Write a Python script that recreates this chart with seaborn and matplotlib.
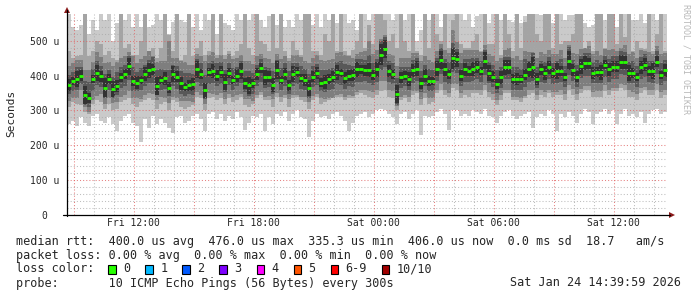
import numpy as np
import pandas as pd
import matplotlib
matplotlib.use("Agg")
import matplotlib.pyplot as plt
import seaborn as sns
from matplotlib.lines import Line2D
from matplotlib.patches import Polygon, Rectangle

# ---------------- data (microseconds) ----------------
start_hour = 8.667          # hours since Fri 00:00 (left edge of plot)
step_hours = 0.2            # one column every 12 minutes
span_hours = 30.0

rtt_median = [
    373, 385, 390, 400, 345, 336, 390, 408, 398, 365,
    390, 362, 370, 395, 405, 427, 385, 380, 388, 405,
    415, 418, 370, 388, 392, 366, 405, 397, 378, 368,
    372, 375, 418, 405, 358, 410, 413, 400, 410, 382,
    407, 388, 400, 413, 378, 372, 378, 405, 422, 395,
    397, 372, 416, 388, 405, 372, 405, 410, 393, 388,
    365, 397, 408, 380, 382, 390, 397, 410, 408, 393,
    400, 402, 418, 418, 415, 415, 402, 418, 460, 476,
    413, 405, 347, 395, 400, 390, 415, 420, 378, 400,
    385, 385, 420, 445, 418, 405, 450, 447, 400, 418,
    413, 420, 425, 413, 443, 408, 397, 376, 395, 424,
    424, 390, 390, 390, 403, 418, 424, 390, 418, 408,
    424, 407, 413, 413, 397, 443, 416, 397, 427, 435,
    435, 408, 410, 410, 432, 418, 426, 426, 440, 438,
    408, 408, 397, 424, 432, 413, 413, 440, 402, 415,
]
rtt_max = [
    600, 540, 530, 545, 600, 520, 560, 530, 600, 560,
    600, 500, 550, 600, 560, 600, 540, 600, 540, 600,
    540, 545, 600, 560, 600, 520, 555, 600, 560, 555,
    600, 540, 600, 530, 600, 560, 600, 520, 600, 550,
    545, 530, 600, 560, 600, 560, 600, 600, 560, 540,
    570, 600, 545, 600, 540, 560, 540, 600, 560, 600,
    600, 545, 600, 540, 600, 560, 600, 550, 600, 600,
    550, 560, 530, 600, 600, 560, 600, 600, 600, 600,
    600, 560, 600, 600, 560, 600, 600, 500, 530, 600,
    560, 600, 600, 540, 600, 600, 560, 600, 600, 560,
    600, 540, 570, 600, 600, 550, 600, 600, 560, 600,
    560, 555, 600, 550, 570, 600, 600, 580, 575, 600,
    600, 550, 600, 600, 560, 575, 575, 600, 600, 550,
    540, 545, 600, 600, 560, 600, 600, 540, 600, 600,
    600, 560, 560, 600, 550, 600, 600, 560, 600, 600,
]
rtt_p9 = [
    470, 450, 445, 460, 600, 455, 470, 500, 490, 460,
    470, 450, 440, 600, 480, 490, 460, 460, 500, 600,
    470, 455, 440, 480, 600, 500, 470, 600, 445, 460,
    600, 455, 480, 500, 460, 470, 600, 450, 600, 460,
    470, 455, 470, 490, 600, 480, 460, 600, 500, 490,
    470, 600, 480, 600, 470, 450, 500, 475, 460, 600,
    600, 470, 470, 460, 520, 500, 600, 470, 600, 470,
    460, 475, 500, 600, 480, 500, 490, 600, 600, 560,
    500, 520, 480, 600, 500, 470, 600, 470, 460, 600,
    480, 600, 520, 500, 600, 480, 530, 600, 490, 480,
    480, 500, 520, 470, 600, 490, 490, 600, 460, 600,
    520, 470, 600, 480, 470, 600, 600, 520, 500, 600,
    600, 480, 600, 490, 500, 500, 520, 600, 600, 480,
    500, 470, 600, 600, 480, 600, 600, 490, 600, 510,
    600, 470, 500, 480, 470, 600, 470, 520, 600, 470,
]
dev_p8 = [
    55, 50, 65, 45, 70, 80, 50, 60, 55, 70,
    50, 65, 75, 55, 50, 40, 70, 55, 60, 50,
    55, 60, 80, 55, 50, 150, 45, 55, 65, 70,
    60, 55, 45, 50, 85, 50, 55, 60, 50, 65,
    55, 60, 50, 45, 65, 70, 55, 50, 40, 55,
    50, 65, 45, 60, 50, 70, 55, 50, 60, 55,
    70, 55, 50, 65, 60, 55, 50, 55, 60, 65,
    55, 50, 45, 50, 55, 130, 60, 55, 45, 40,
    50, 55, 80, 55, 50, 60, 50, 45, 65, 55,
    60, 55, 50, 45, 55, 60, 140, 50, 65, 55,
    60, 55, 50, 55, 45, 55, 60, 65, 55, 50,
    55, 60, 65, 55, 150, 50, 45, 60, 50, 55,
    50, 55, 50, 60, 55, 45, 50, 65, 50, 45,
    50, 55, 60, 50, 45, 55, 50, 45, 40, 50,
    55, 60, 55, 50, 45, 55, 50, 45, 60, 50,
]
dev_p7 = [
    30, 25, 35, 25, 40, 45, 30, 35, 30, 40,
    25, 35, 40, 30, 25, 30, 40, 30, 35, 25,
    30, 35, 45, 30, 25, 50, 25, 30, 35, 40,
    35, 30, 30, 30, 45, 25, 30, 35, 30, 35,
    30, 35, 25, 30, 35, 40, 30, 25, 25, 30,
    25, 40, 30, 35, 30, 40, 30, 25, 35, 30,
    40, 30, 25, 35, 35, 30, 25, 30, 35, 40,
    30, 25, 30, 30, 30, 45, 35, 30, 40, 35,
    30, 30, 45, 30, 25, 35, 30, 30, 35, 30,
    35, 30, 30, 35, 30, 35, 45, 30, 35, 30,
    35, 30, 25, 30, 30, 30, 35, 40, 30, 30,
    30, 35, 35, 30, 45, 25, 40, 35, 25, 30,
    30, 30, 30, 35, 30, 40, 30, 35, 30, 30,
    30, 30, 35, 30, 25, 30, 30, 30, 30, 30,
    30, 35, 30, 30, 30, 30, 30, 30, 35, 30,
]
dev_core = [
    18, 12, 22, 15, 25, 15, 12, 22, 15, 28,
    15, 22, 18, 12, 15, 25, 15, 18, 12, 20,
    22, 15, 25, 12, 18, 15, 22, 15, 18, 12,
    15, 18, 25, 15, 22, 12, 20, 15, 18, 22,
    15, 12, 18, 22, 15, 25, 12, 18, 15, 22,
    15, 20, 25, 12, 18, 15, 22, 15, 12, 18,
    22, 15, 18, 12, 20, 15, 15, 22, 12, 18,
    15, 18, 22, 12, 15, 20, 15, 22, 30, 25,
    18, 15, 25, 15, 12, 20, 18, 22, 15, 18,
    15, 12, 22, 25, 18, 15, 30, 22, 15, 18,
    15, 20, 18, 12, 25, 22, 15, 15, 18, 22,
    20, 15, 18, 12, 15, 22, 30, 18, 15, 20,
    18, 15, 22, 15, 12, 28, 18, 15, 22, 20,
    15, 18, 15, 22, 12, 18, 15, 15, 20, 18,
    22, 15, 12, 18, 20, 15, 22, 15, 12, 18,
]
dev_p4 = [
    25, 30, 30, 25, 30, 25, 35, 35, 30, 25,
    30, 25, 25, 30, 35, 40, 30, 25, 30, 35,
    35, 40, 25, 30, 30, 25, 35, 35, 30, 25,
    25, 30, 35, 35, 25, 35, 35, 30, 35, 30,
    35, 30, 30, 35, 25, 30, 30, 35, 40, 30,
    30, 25, 35, 30, 35, 25, 35, 35, 30, 30,
    30, 30, 35, 25, 30, 30, 35, 35, 35, 30,
    30, 35, 35, 35, 30, 35, 30, 35, 45, 50,
    30, 30, 30, 30, 30, 30, 35, 35, 25, 30,
    30, 30, 35, 40, 35, 30, 40, 40, 30, 35,
    30, 35, 35, 30, 40, 30, 30, 25, 30, 35,
    35, 30, 30, 30, 35, 35, 40, 25, 35, 30,
    35, 30, 35, 30, 30, 40, 30, 30, 35, 35,
    35, 30, 30, 30, 35, 35, 35, 35, 35, 35,
    30, 30, 30, 35, 35, 30, 35, 35, 30, 30,
]
dev_p3 = [
    45, 50, 55, 40, 35, 40, 60, 65, 50, 45,
    55, 40, 45, 55, 60, 70, 50, 45, 55, 60,
    65, 70, 40, 50, 55, 45, 65, 60, 50, 40,
    45, 50, 65, 60, 40, 60, 65, 55, 60, 50,
    60, 50, 55, 65, 45, 40, 50, 60, 70, 55,
    55, 40, 65, 50, 60, 40, 60, 65, 55, 50,
    40, 55, 60, 45, 50, 55, 60, 65, 60, 55,
    55, 60, 65, 60, 55, 60, 50, 60, 75, 90,
    55, 50, 35, 55, 55, 50, 60, 65, 45, 50,
    50, 50, 60, 70, 60, 55, 75, 70, 50, 60,
    55, 60, 65, 55, 70, 55, 50, 45, 50, 65,
    65, 50, 50, 55, 60, 60, 65, 45, 60, 55,
    65, 55, 60, 55, 50, 70, 55, 50, 65, 65,
    65, 55, 55, 55, 60, 60, 60, 60, 65, 65,
    50, 55, 50, 60, 65, 55, 55, 65, 50, 55,
]
rtt_p2 = [
    310, 325, 320, 315, 295, 290, 320, 330, 325, 305,
    320, 300, 305, 325, 330, 335, 320, 310, 325, 330,
    335, 330, 305, 320, 325, 300, 330, 325, 310, 305,
    310, 315, 340, 335, 300, 335, 340, 330, 335, 320,
    335, 325, 330, 340, 315, 310, 320, 335, 345, 330,
    330, 310, 340, 325, 335, 310, 335, 340, 330, 325,
    305, 330, 340, 320, 325, 330, 335, 340, 340, 330,
    335, 335, 345, 350, 345, 340, 335, 345, 355, 360,
    340, 335, 300, 330, 335, 325, 345, 350, 315, 335,
    320, 325, 350, 360, 345, 340, 365, 360, 335, 345,
    340, 350, 350, 345, 360, 340, 330, 315, 330, 350,
    350, 330, 330, 325, 335, 345, 350, 330, 345, 340,
    350, 340, 345, 345, 330, 360, 345, 330, 350, 360,
    360, 340, 340, 340, 355, 345, 355, 355, 365, 360,
    340, 340, 330, 350, 360, 345, 345, 360, 335, 345,
]
rtt_min = [
    260, 270, 255, 280, 265, 255, 285, 290, 270, 265,
    280, 260, 240, 270, 285, 290, 265, 255, 210, 275,
    250, 285, 260, 275, 265, 250, 235, 280, 285, 265,
    270, 285, 290, 275, 240, 290, 295, 275, 290, 270,
    285, 275, 295, 280, 245, 265, 285, 280, 290, 240,
    280, 260, 290, 285, 295, 270, 290, 300, 280, 275,
    225, 270, 290, 280, 285, 275, 290, 295, 285, 270,
    240, 265, 285, 290, 295, 280, 290, 300, 305, 300,
    290, 280, 260, 290, 295, 275, 290, 300, 230, 285,
    280, 285, 295, 305, 290, 245, 300, 300, 285, 290,
    285, 300, 295, 290, 305, 285, 280, 265, 285, 295,
    300, 285, 275, 285, 290, 295, 250, 280, 290, 285,
    300, 290, 240, 290, 280, 295, 285, 265, 290, 305,
    295, 260, 290, 295, 305, 290, 300, 260, 290, 305,
    285, 290, 280, 295, 265, 290, 300, 305, 290, 295,
]

tick_hours = [12, 18, 24, 30, 36]
tick_labels = ["Fri 12:00", "Fri 18:00", "Sat 00:00", "Sat 06:00", "Sat 12:00"]
y_ticks = [0, 100, 200, 300, 400, 500]
y_tick_labels = ["0  ", "100 u", "200 u", "300 u", "400 u", "500 u"]

rtt_line = "median rtt:  400.0 us avg  476.0 us max  335.3 us min  406.0 us now  0.0 ms sd  18.7   am/s"
loss_line = "packet loss: 0.00 % avg  0.00 % max  0.00 % min  0.00 % now"
loss_labels = ["0", "1", "2", "3", "4", "5", "6-9", "10/10"]
loss_colors = ["#26ff00", "#00b8ff", "#0059ff", "#7e00ff", "#ff00ff", "#ff5500", "#ff0000", "#a10000"]
probe_line = "probe:       10 ICMP Echo Pings (56 Bytes) every 300s"
stamp_text = "Sat Jan 24 14:39:59 2026"

# ---------------- figure ----------------
sns.set_theme(style="white")
plt.rcParams['font.family'] = ['DejaVu Sans Mono', 'DejaVu Sans']

W, H = 697, 297
fig = plt.figure(figsize=(W / 100, H / 100), dpi=100, facecolor="white")


def fx(px):
    return px / W


def fy(py):
    return 1 - py / H


ax = fig.add_axes([fx(67), fy(215), (667 - 67) / W, (215 - 14) / H])
ax.set_facecolor("white")

med = np.array(rtt_median, dtype=float)
n = len(med)
pings = np.sort(np.vstack([
    np.array(rtt_min, float), np.array(rtt_p2, float),
    med - np.array(dev_p3), med - np.array(dev_p4), med - np.array(dev_core),
    med + np.array(dev_core), med + np.array(dev_p7), med + np.array(dev_p8),
    np.array(rtt_p9, float), np.array(rtt_max, float)]), axis=0)

t = start_hour + step_hours * np.arange(n)
edges = np.append(t, t[-1] + step_hours)


def ext(a):
    return np.append(a, a[-1])


shades = ["#cacaca", "#a4a4a4", "#7e7e7e", "#585858", "#323232"]
for k in range(5):
    ax.fill_between(edges, ext(pings[k]), ext(pings[9 - k]), step="post",
                    color=shades[k], linewidth=0, zorder=1)

# median (loss 0 colour) as short horizontal dashes
df = pd.DataFrame({"hour": t + step_hours / 2, "rtt": med})
sns.scatterplot(data=df, x="hour", y="rtt", marker="_", s=10,
                color="#26ff00", edgecolor="#26ff00", linewidth=2.0,
                ax=ax, zorder=4, legend=False)

ax.set_xlim(start_hour, start_hour + span_hours)
ax.set_ylim(0, 577)

# grid (dotted)
dots = (0, (1, 2))
for h in range(9, 39):
    if h % 3 == 0:
        ax.axvline(h, color="#e06060", alpha=0.8, lw=0.75, ls=dots, zorder=3)
    else:
        ax.axvline(h, color="#a8a8a8", alpha=0.75, lw=0.75, ls=dots, zorder=2.5)
for v in range(20, 577, 20):
    if v % 100 == 0:
        ax.axhline(v, color="#e06060", alpha=0.8, lw=0.75, ls=dots, zorder=3)
    else:
        ax.axhline(v, color="#a8a8a8", alpha=0.75, lw=0.75, ls=dots, zorder=2.5)

ax.set_xticks(tick_hours)
ax.set_xticklabels(tick_labels, fontsize=7)
ax.set_yticks(y_ticks)
ax.set_yticklabels(y_tick_labels, fontsize=7)
ax.tick_params(axis="x", length=0, pad=2.5)
ax.tick_params(axis="y", length=0, pad=5.5)
ax.set_xlabel("")
ax.set_ylabel("")
for s in ax.spines.values():
    s.set_visible(False)

# axes lines with arrows
fig.add_artist(Line2D([fx(67), fx(67)], [fy(216), fy(10)], color="black", lw=0.9))
fig.add_artist(Line2D([fx(63), fx(670)], [fy(215), fy(215)], color="black", lw=0.9))
fig.add_artist(Polygon([[fx(64), fy(13)], [fx(70), fy(13)], [fx(67), fy(7)]],
                       closed=True, color="#8b1a1a", lw=0))
fig.add_artist(Polygon([[fx(669), fy(212)], [fx(669), fy(218)], [fx(675), fy(215)]],
                       closed=True, color="#8b1a1a", lw=0))

fig.text(fx(11), fy(113), "Seconds", rotation=90, ha="center", va="center", fontsize=8)
fig.text(fx(686), fy(59), "RRDTOOL / TOBI OETIKER", rotation=270, ha="center",
         va="center", fontsize=6, color="#b8b8b8")

# legend block
lfs = 8.5
fig.text(fx(16), fy(241), rtt_line, ha="left", va="center", fontsize=lfs)
fig.text(fx(16), fy(255), loss_line, ha="left", va="center", fontsize=lfs)
fig.text(fx(16), fy(269), "loss color:", ha="left", va="center", fontsize=lfs)
bx = 108.3
for lab, col in zip(loss_labels, loss_colors):
    fig.add_artist(Rectangle((fx(bx), fy(273.5)), 7.5 / W, 8.5 / H,
                             facecolor=col, edgecolor="black", lw=0.8))
    fig.text(fx(bx + 15), fy(269), lab, ha="left", va="center", fontsize=lfs)
    bx = bx + 15 + 7.05 * len(lab) + 15
fig.text(fx(16), fy(283), probe_line, ha="left", va="center", fontsize=lfs)
fig.text(fx(681), fy(283), stamp_text, ha="right", va="center", fontsize=lfs)

fig.savefig("out.png", dpi=100, facecolor="white")
